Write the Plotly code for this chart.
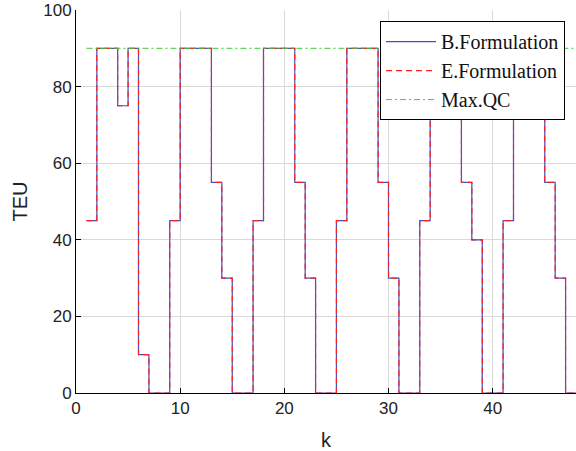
import plotly.graph_objects as go

k = list(range(1, 49))
b_form = [45, 90, 90, 75, 90, 10, 0, 0, 45, 90, 90, 90, 55, 30, 0, 0,
          45, 90, 90, 90, 55, 30, 0, 0, 45, 90, 90, 90, 55, 30, 0, 0,
          45, 90, 90, 90, 55, 40, 0, 0, 45, 90, 90, 90, 55, 30, 0, 0]
e_form = list(b_form)
max_qc = [90] * len(k)

fig = go.Figure()
fig.add_trace(go.Scatter(x=k, y=b_form, mode="lines", name="B.Formulation",
                         line=dict(color="#3f51c8", width=1.2, shape="hv")))
fig.add_trace(go.Scatter(x=k, y=e_form, mode="lines", name="E.Formulation",
                         line=dict(color="#ff2020", width=1.2, shape="hv", dash="6px,4px")))
fig.add_trace(go.Scatter(x=k, y=max_qc, mode="lines", name="Max.QC",
                         line=dict(color="#3cc83c", width=1, dash="6px,3px,2px,3px")))

fig.update_layout(
    width=576, height=451,
    margin=dict(l=76, r=0, t=10, b=58),
    paper_bgcolor="white", plot_bgcolor="white",
    font=dict(family="Liberation Sans, Arial, sans-serif", size=17, color="#222222"),
    showlegend=True,
    legend=dict(x=0.978, y=0.971, xanchor="right", yanchor="top",
                bgcolor="white", bordercolor="black", borderwidth=1,
                itemwidth=50,
                font=dict(family="Liberation Serif, Times New Roman, serif", size=20, color="#111111"),
                tracegroupgap=0),
)
fig.update_xaxes(range=[0, 48], tickvals=[0, 10, 20, 30, 40], showgrid=True,
                 gridcolor="#d9d9d9", gridwidth=1.2, zeroline=False,
                 showline=True, linecolor="black", linewidth=1,
                 ticks="inside", ticklen=5, tickcolor="black",
                 title=dict(text="k", standoff=15))
fig.update_yaxes(range=[0, 100], tickvals=[0, 20, 40, 60, 80, 100], showgrid=True,
                 gridcolor="#d9d9d9", gridwidth=1.2, zeroline=False,
                 showline=True, linecolor="black", linewidth=1,
                 ticks="inside", ticklen=5, tickcolor="black",
                 title=dict(text="TEU", standoff=10))

fig.write_html("out.html", config={"displayModeBar": False},
               post_script="document.body.style.margin='0';document.body.style.overflow='hidden';")
